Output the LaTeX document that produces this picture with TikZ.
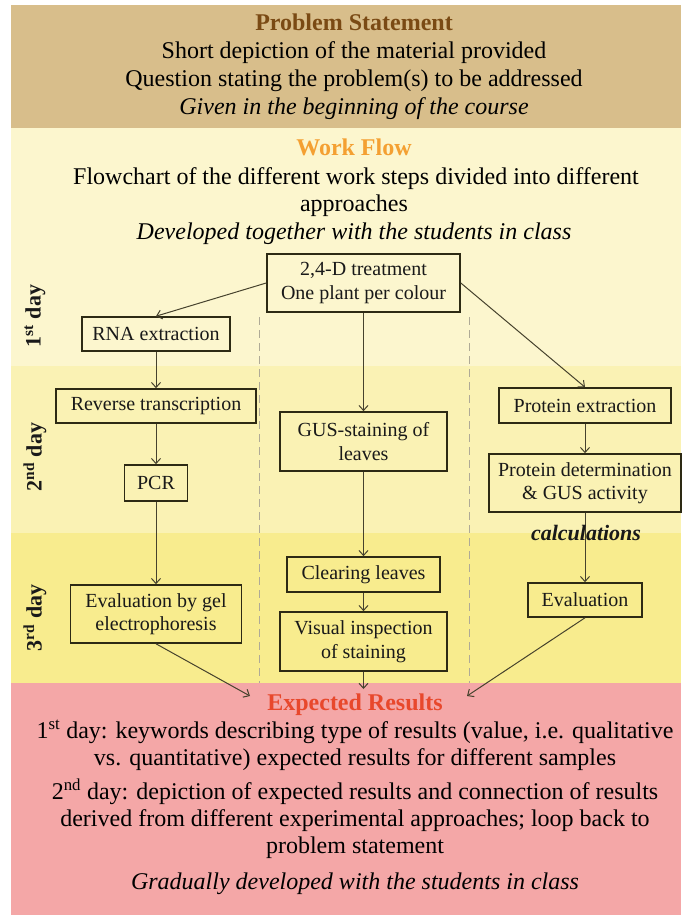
\documentclass[tikz,border=0pt]{standalone}
\usepackage{fontspec}
\setmainfont{Liberation Serif}
\usetikzlibrary{arrows.meta}
\definecolor{tanbg}{RGB}{216,190,139}
\definecolor{wfbg}{RGB}{252,246,206}
\definecolor{daytwobg}{RGB}{250,242,180}
\definecolor{daythreebg}{RGB}{248,236,142}
\definecolor{pinkbg}{RGB}{244,167,167}
\definecolor{pstitle}{RGB}{122,74,20}
\definecolor{wftitle}{RGB}{244,160,50}
\definecolor{ertitle}{RGB}{232,72,44}
\definecolor{boxline}{RGB}{45,42,20}
\definecolor{arrowcol}{RGB}{70,66,45}
\definecolor{dashcol}{RGB}{175,170,150}
\begin{document}
\begin{tikzpicture}[x=1pt,y=-1pt,
  bigtext/.style={font=\fontsize{24}{28}\selectfont, inner sep=0pt, text height=16.5pt, text depth=5.3pt, text=black},
  boxnode/.style={draw=boxline, line width=1.6pt, font=\fontsize{20}{23.5}\selectfont, align=center, inner sep=0pt, text=black!90},
  daylbl/.style={font=\fontsize{22}{24}\selectfont\bfseries, rotate=90, inner sep=0pt, text=black!90},
  arr/.style={draw=arrowcol, line width=1pt, -{Straight Barb[length=5pt,width=9pt]}},
  sep/.style={draw=dashcol, line width=1pt, dash pattern=on 8pt off 5pt}
]
\useasboundingbox (0,0) rectangle (681,917);
\fill[white] (0,0) rectangle (681,917);
\fill[tanbg] (11,5) rectangle (681,128);
\fill[wfbg] (11,128) rectangle (681,366);
\fill[daytwobg] (11,366) rectangle (681,533);
\fill[daythreebg] (11,533) rectangle (681,683);
\fill[pinkbg] (11,683) rectangle (681,915);

% Problem statement
\node[bigtext, font=\fontsize{24}{28}\selectfont\bfseries, text=pstitle] (pst) at (354,25) {Problem Statement};
\node[bigtext] (ps1) at (354,53) {Short depiction of the material provided};
\node[bigtext] (ps2) at (354,81) {Question stating the problem(s) to be addressed};
\node[bigtext, font=\fontsize{24}{28}\selectfont\itshape] (ps3) at (354,109) {Given in the beginning of the course};

% Work flow
\node[bigtext, font=\fontsize{24}{28}\selectfont\bfseries, text=wftitle] (wft) at (354,150) {Work Flow};
\node[bigtext] (wf1) at (356,179) {Flowchart of the different work steps divided into different};
\node[bigtext] (wf2) at (354,206) {approaches};
\node[bigtext, font=\fontsize{24}{28}\selectfont\itshape] (wf3) at (354,234) {Developed together with the students in class};

% separators
\coordinate (s1a) at (259,317); \coordinate (s1b) at (259,683);
\coordinate (s2a) at (469,317); \coordinate (s2b) at (469,683);
\draw[sep] (s1a) -- (s1b);
\draw[sep] (s2a) -- (s2b);

% day labels
\node[daylbl] (d1) at (35,316) {1\textsuperscript{st} day};
\node[daylbl] (d2) at (35,457) {2\textsuperscript{nd} day};
\node[daylbl] (d3) at (35,618) {3\textsuperscript{rd} day};

% boxes
\node[boxnode, minimum width=193pt, minimum height=58pt] (treat) at (363.5,283) {2,4-D treatment\\One plant per colour};
\node[boxnode, minimum width=148pt, minimum height=34pt] (rna) at (156,334) {RNA extraction};
\node[boxnode, minimum width=200pt, minimum height=34pt] (rt) at (156,406) {Reverse transcription};
\node[boxnode, minimum width=63pt, minimum height=36pt] (pcr) at (156,483) {PCR};
\node[boxnode, minimum width=171pt, minimum height=58pt] (gel) at (156,614) {Evaluation by gel\\electrophoresis};
\node[boxnode, minimum width=167pt, minimum height=59pt] (gus) at (363.5,441.5) {GUS-staining of\\leaves};
\node[boxnode, minimum width=153pt, minimum height=35pt] (clear) at (363.5,574.5) {Clearing leaves};
\node[boxnode, minimum width=167pt, minimum height=59pt] (visual) at (363.5,641.5) {Visual inspection\\of staining};
\node[boxnode, minimum width=172pt, minimum height=35pt] (pext) at (585,405.5) {Protein extraction};
\node[boxnode, minimum width=192pt, minimum height=58pt] (pdet) at (585,483) {Protein determination\\\& GUS activity};
\node[boxnode, minimum width=114pt, minimum height=34pt] (evalr) at (585,600) {Evaluation};

% arrows
\draw[arr] (treat.west) -- (rna.north);
\draw[arr] (treat.south) -- (gus.north);
\draw[arr] (treat.east) -- (pext.north);
\draw[arr] (rna) -- (rt);
\draw[arr] (rt) -- (pcr);
\draw[arr] (pcr) -- (gel);
\draw[arr] (gus) -- (clear);
\draw[arr] (clear) -- (visual);
\draw[arr] (pext) -- (pdet);
\draw[arr] (pdet) -- (evalr);

\node[font=\fontsize{22}{24}\selectfont\bfseries\itshape, inner sep=0pt, text=black!90] (calc) at (586,533) {calculations};

% expected results
\coordinate (erL) at (250,696);
\coordinate (erM) at (363.5,689);
\coordinate (erR) at (467,696);
\draw[arr] (gel.south) -- (erL);
\draw[arr] (visual.south) -- (erM);
\draw[arr] (evalr.south) -- (erR);

\node[bigtext, font=\fontsize{24}{28}\selectfont\bfseries, text=ertitle] (ert) at (355,705) {Expected Results};
\node[bigtext] (er1) at (355,733) {1\textsuperscript{st} day: keywords describing type of results (value, i.e. qualitative};
\node[bigtext] (er2) at (355,760) {vs. quantitative) expected results for different samples};
\node[bigtext] (er3) at (355,794) {2\textsuperscript{nd} day: depiction of expected results and connection of results};
\node[bigtext] (er4) at (355,821) {derived from different experimental approaches; loop back to};
\node[bigtext] (er5) at (355,848) {problem statement};
\node[bigtext, font=\fontsize{24}{28}\selectfont\itshape] (er6) at (355,884) {Gradually developed with the students in class};
\end{tikzpicture}
\end{document}
